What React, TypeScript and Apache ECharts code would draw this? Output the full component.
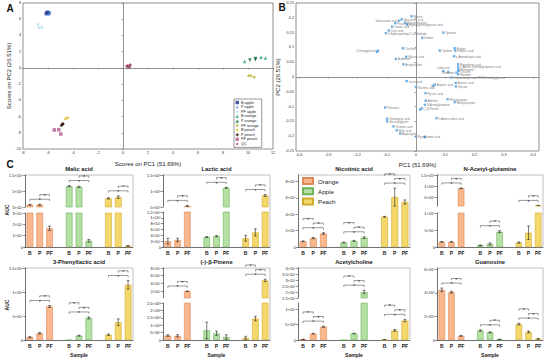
import React, { useEffect, useRef } from 'react';
import * as echarts from 'echarts';

// ---------------- Panel A : PCA scores ----------------
const scoreGroups = ['B apple', 'P apple', 'PF apple', 'B orange', 'P orange', 'PF orange', 'B peach', 'P peach', 'PF peach', 'QC'];
const scoreBApple = [[-6.13, 6.7], [-6.05, 6.85], [-5.95, 6.75]];
const scorePApple = [[-6.0, 6.65], [-5.85, 6.8], [-5.95, 6.6]];
const scorePFApple = [[-6.8, 5.4], [-6.72, 5.0], [-6.5, 5.02]];
const scoreBOrange = [[9.73, 0.8], [11.04, 1.33], [11.4, 1.22]];
const scorePOrange = [[10.15, 0.96], [10.6, 1.16], [10.6, 1.02]];
const scorePFOrange = [[10.05, -0.97], [10.23, -0.97], [10.5, -1.14]];
const scoreBPeach = [[-4.63, -6.3], [-4.5, -6.2], [-4.42, -6.15]];
const scorePPeach = [[-4.93, -7.1], [-4.85, -6.95], [-4.8, -6.9]];
const scorePFPeach = [[-5.5, -7.65], [-5.14, -7.62], [-4.98, -8.15]];
const scoreQC = [[0.3, 0.2], [0.5, 0.35], [0.43, 0.0], [0.6, 0.43], [0.55, 0.15], [0.35, 0.3]];
const scoreColors = ['#1b2f8c', '#3f86d8', '#88d4ea', '#2fa07c', '#0f6634', '#b9b43c', '#e6c443', '#2a0e06', '#b25d8c', '#8c1b40'];
const STAR = 'path://M50,0 L61,35 L98,35 L68,57 L79,91 L50,70 L21,91 L32,57 L2,35 L39,35 Z';
const scoreSymbols = ['rect', STAR, STAR, 'triangle', 'triangle', 'diamond', 'diamond', 'diamond', 'rect', STAR];
const scoreRotate = [0, 0, 0, 0, 180, 0, 0, 0, 0, 0];

// ---------------- Panel B : PCA loadings ----------------
const loadNames = ['Ribose', 'Glucuronic acid', 'Galacturonic acid', 'Gluconolactone', 'Fructose', 'Hydroxyphenylpyruvic acid',
  'Tartaric acid', 'Citric acid', '5-Hydroxymethyl-2-furaldehyde', 'Tyrosine', 'Uridine', 'Citrulline', '2-Deoxyglucose', '',
  'Glyceric acid', 'Arabinose', 'Acetylcholine', 'Cytidine', 'Proline', 'Fumaric acid', 'γ-Aminobutyric acid',
  'Pantothenic acid', '2-Amino-3-phenylpropanoic acid', 'Methionine', 'Leucine', 'Isoleucine', '', 'Threonine', 'Histidine',
  '4-aminobutyric acid N,N-Dimethylglycine', 'Lactic acid', 'Nicotinic acid', 'Aspartic acid', '', 'Aconitic acid', 'Glycine',
  'Pyruvic acid', 'Phenylalanine', 'Methylcysteine', 'Adenine', 'N-Acetylglutamine', 'Theanine', '(-)-β-Pinene', '',
  '5-Amino valeric acid', 'Chlorogenic acid', 'Glucosylglycine', 'Threonic acid', 'Malic acid', 'Asparagine', 'Pyroglutamic acid', ''];
const loadPC1 = [-0.015, -0.049, -0.058, -0.037, -0.071, -0.03, -0.082, -0.093, -0.103, 0.093, 0.021, -0.045, -0.13, -0.133,
  -0.034, -0.069, -0.043, 0.081, 0.132, 0.134, 0.13, 0.144, 0.144, 0.144, 0.146, 0.093, 0.11, 0.138, 0.144,
  0.121, -0.032, 0.0, 0.064, 0.057, 0.136, 0.136, 0.033, 0.108, 0.132, 0.033, 0.03, -0.105, 0.019, 0.014,
  0.07, -0.099, -0.099, -0.077, -0.066, -0.054, 0.0, 0.03];
const loadPC2 = [0.205, 0.195, 0.19, 0.184, 0.182, 0.177, 0.17, 0.157, 0.148, 0.15, 0.132, 0.097, 0.089, 0.085,
  0.068, 0.061, 0.043, 0.089, 0.097, 0.089, 0.07, 0.043, 0.034, 0.025, 0.02, 0.02, 0.017, 0.015, 0.009,
  -0.002, -0.014, -0.034, -0.026, -0.03, -0.02, -0.032, -0.055, -0.075, -0.085, -0.08, -0.094, -0.103, -0.106, -0.11,
  -0.139, -0.141, -0.15, -0.167, -0.18, -0.191, -0.201, -0.202];
const loadLabelLeft = ['2-Deoxyglucose', 'Galacturonic acid', 'Threonine'];
const loadLabelTop = ['Isoleucine'];

// ---------------- Panel C : bar charts ----------------
const samples = ['B', 'P', 'PF'];
const fruits = ['Orange', 'Apple', 'Peach'];
const fruitFill = ['#F8B78C', '#B4E0A4', '#F5D86C'];
const fruitEdge = ['#DE8A56', '#6FB35C', '#D2AB2C'];
const compounds = ['Malic acid', 'Lactic acid', 'Nicotinic acid', 'N-Acetyl-glutamine', '3-Phenyllactic acid', '(-)-β-Pinene', 'Acetylcholine', 'Guanosine'];

const malicMean = [[5.7e7, 5.7e7, 1.65e7], [1.15e8, 1.13e8, 5.5e6], [7.7e7, 8.1e7, 1e6]];
const malicErr = [[1.5e6, 1.5e6, 2e6], [2e6, 2e6, 1.2e6], [2e6, 4e6, 3e5]];
const lacticMean = [[2e7, 2.4e7, 5.3e8], [3.4e7, 3.7e7, 1.1e9], [3e7, 5e7, 8.6e8]];
const lacticErr = [[1e7, 6e6, 2e7], [2e6, 2e6, 1.5e7], [1e7, 1.2e7, 3e7]];
const nicotinicMean = [[7e6, 1.1e7, 1.65e7], [5.5e6, 7.5e6, 1.15e7], [3.7e7, 6.1e7, 5.5e7]];
const nicotinicErr = [[5e5, 8e5, 1e6], [5e5, 6e5, 1e6], [5e5, 1.1e7, 2.5e6]];
const nagMean = [[1.5e7, 1.5e7, 9e8], [5e6, 9e6, 4.5e7], [1.3e7, 4.2e7, 1.2e8]];
const nagErr = [[1e6, 1e6, 1.5e7], [1e6, 3e6, 3e6], [2e6, 2e7, 8e6]];
const plaMean = [[6e6, 1.4e7, 7e7], [0, 9e6, 4.6e7], [1.1e7, 3.7e7, 1.15e8]];
const plaErr = [[1e6, 1.5e6, 2e6], [0, 1e6, 2e6], [1.5e6, 7e6, 9e6]];
const pineneMean = [[3e5, 2.8e5, 2e7], [6.5e5, 4.5e5, 2e5], [1.5e5, 1.45e6, 4.8e7]];
const pineneErr = [[5e4, 8e4, 5e5], [5.5e5, 1.5e5, 1.5e5], [1e5, 1.5e5, 3e6]];
const achMean = [[2e5, 2.05e6, 4.3e6], [0, 2.1e6, 2.0e7], [1e5, 3.1e6, 6.3e6]];
const achErr = [[5e4, 1e5, 2e5], [0, 1e5, 1.5e6], [5e4, 3e5, 4e5]];
const guaMean = [[4.25e8, 4.05e8, 3.5e7], [8e7, 6.5e7, 5e6], [1.35e8, 6.8e7, 1e7]];
const guaErr = [[1.5e7, 8e6, 4e6], [6e6, 4e6, 2e6], [8e6, 8e6, 3e6]];

// significance brackets per fruit: 0 none, 2 = (P–PF, B–PF), 3 = (B–P, P–PF, B–PF)
const malicSig = [2, 2, 2];
const lacticSig = [2, 2, 2];
const nicotinicSig = [3, 3, 3];
const nagSig = [2, 2, 2];
const plaSig = [2, 3, 2];
const pineneSig = [2, 0, 3];
const achSig = [3, 3, 3];
const guaSig = [2, 2, 3];

// y axis ranges [min, max, tick step]; upper segment for broken axes
const malicLow = [0, 3e7, 1e7], malicUp = [5e7, 1.5e8, 5e7];
const lacticLow = [0, 1.2e8, 2e7], lacticUp = [5e8, 1.5e9, 5e8];
const nicotinicLow = [0, 8.8e7, 2e7];
const nagLow = [0, 1e8, 5e7], nagUp = [1e8, 1.5e9, 5e8];
const plaLow = [0, 1.5e8, 5e7];
const pineneLow = [0, 2.5e6, 5e5], pineneUp = [2.5e6, 8e7, 2e7];
const achLow = [0, 1.2e7, 5e6], achUp = [1.5e7, 4e7, 5e6];
const guaLow = [0, 6.1e8, 2e8];

const means = [malicMean, lacticMean, nicotinicMean, nagMean, plaMean, pineneMean, achMean, guaMean];
const errs = [malicErr, lacticErr, nicotinicErr, nagErr, plaErr, pineneErr, achErr, guaErr];
const sigs = [malicSig, lacticSig, nicotinicSig, nagSig, plaSig, pineneSig, achSig, guaSig];
const lows = [malicLow, lacticLow, nicotinicLow, nagLow, plaLow, pineneLow, achLow, guaLow];
const ups: (number[] | null)[] = [malicUp, lacticUp, null, nagUp, null, pineneUp, achUp, null];

// layout (pixels)
const cols = [[25, 133], [163, 270], [298, 410], [437, 543]];
const rows = [[175, 247], [268, 340]];
const breakPx: (number[] | null)[] = [[213, 207], [212, 207], null, [213, 206], null, [303, 298], [303, 298], null];
const FONT = 'Liberation Sans, Arial, sans-serif';

const SUP: Record<string, string> = { '0': '⁰', '1': '¹', '2': '²', '3': '³', '4': '⁴', '5': '⁵', '6': '⁶', '7': '⁷', '8': '⁸', '9': '⁹', '-': '⁻' };
function sci(v: number): string {
  if (Math.abs(v) < 1e-6) return '0';
  let e = Math.floor(Math.log10(v) + 1e-9);
  let m = Math.round((v / Math.pow(10, e)) * 10) / 10;
  if (m >= 10) { m = m / 10; e += 1; }
  return `${m}×10${String(e).split('').map((c) => SUP[c]).join('')}`;
}
function ticksOf(a: number[]): number[] {
  const out: number[] = [];
  const n0 = Math.ceil(a[0] / a[2] - 1e-9);
  const n1 = Math.floor(a[1] / a[2] + 1e-9);
  for (let n = n0; n <= n1; n++) out.push(n * a[2]);
  return out;
}

const cats = ['B', 'P', 'PF', '', 'B', 'P', 'PF', '', 'B', 'P', 'PF'];

function buildOption() {
  const grids: any[] = [];
  const xAxes: any[] = [];
  const yAxes: any[] = [];
  const series: any[] = [];
  const graphics: any[] = [];
  const axisCol = '#333';

  // ---------- A ----------
  grids.push({ left: 23, top: 3, width: 250, height: 146, show: true, borderColor: '#444', borderWidth: 0.6 });
  xAxes.push({
    gridIndex: 0, type: 'value', min: -8, max: 12, interval: 2,
    axisLine: { lineStyle: { color: '#444', width: 0.6 } }, axisTick: { length: 1.5, lineStyle: { width: 0.5 } },
    axisLabel: { fontSize: 3.8, margin: 2, color: '#333' }, splitLine: { show: false },
    name: 'Scores on PC1 (51.69%)', nameLocation: 'middle', nameGap: 12, nameTextStyle: { fontSize: 6, color: '#222' },
  });
  yAxes.push({
    gridIndex: 0, type: 'value', min: -10, max: 8, interval: 2,
    axisLine: { lineStyle: { color: '#444', width: 0.6 } }, axisTick: { length: 1.5, lineStyle: { width: 0.5 } },
    axisLabel: { fontSize: 3.8, margin: 2, color: '#333' }, splitLine: { show: false },
    name: 'Scores on PC2 (26.51%)', nameLocation: 'middle', nameGap: 8, nameTextStyle: { fontSize: 6, color: '#222' },
  });
  const scoreData = [scoreBApple, scorePApple, scorePFApple, scoreBOrange, scorePOrange, scorePFOrange, scoreBPeach, scorePPeach, scorePFPeach, scoreQC];
  scoreGroups.forEach((g, i) => {
    series.push({
      type: 'scatter', name: g, xAxisIndex: 0, yAxisIndex: 0, data: scoreData[i],
      symbol: scoreSymbols[i], symbolRotate: scoreRotate[i], symbolSize: 3.6,
      itemStyle: { color: scoreColors[i] },
      markLine: i === 9 ? {
        silent: true, symbol: 'none', label: { show: false },
        lineStyle: { type: 'dashed', color: '#999', width: 0.6 },
        data: [{ xAxis: 0 }, { yAxis: 0 }],
      } : undefined,
    });
  });

  // ---------- B ----------
  grids.push({ left: 296, top: 3, width: 243, height: 148, show: true, borderColor: '#444', borderWidth: 0.6 });
  const bTicks = [-0.4, -0.3, -0.2, -0.1, 0, 0.1, 0.2, 0.3, 0.4];
  xAxes.push({
    gridIndex: 1, type: 'value', min: -0.41, max: 0.42,
    axisLine: { lineStyle: { color: '#444', width: 0.6 } },
    axisTick: { length: 1.5, lineStyle: { width: 0.5 }, customValues: bTicks },
    axisLabel: { fontSize: 3.8, margin: 2, color: '#333', customValues: bTicks, formatter: (v: number) => String(Math.round(v * 100) / 100) },
    splitLine: { show: false },
    name: 'PC1 (51.69%)', nameLocation: 'middle', nameGap: 11, nameTextStyle: { fontSize: 6, color: '#222' },
  });
  yAxes.push({
    gridIndex: 1, type: 'value', min: -0.25, max: 0.25, interval: 0.05,
    axisLine: { lineStyle: { color: '#444', width: 0.6 } }, axisTick: { length: 1.5, lineStyle: { width: 0.5 } },
    axisLabel: { fontSize: 3.8, margin: 2, color: '#333', formatter: (v: number) => String(Math.round(v * 100) / 100) },
    splitLine: { show: false },
    name: 'PC2 (26.51%)', nameLocation: 'middle', nameGap: 12, nameTextStyle: { fontSize: 6, color: '#222' },
  });
  series.push({
    type: 'scatter', name: 'loadings', xAxisIndex: 1, yAxisIndex: 1, symbol: 'rect', symbolSize: 2.4,
    itemStyle: { color: '#4a9be0' },
    data: loadNames.map((n, i) => ({
      name: n, value: [loadPC1[i], loadPC2[i]],
      label: loadLabelLeft.indexOf(n) >= 0 ? { position: 'left' } : loadLabelTop.indexOf(n) >= 0 ? { position: 'top' } : undefined,
    })),
    label: { show: true, position: 'right', distance: 0.8, formatter: '{b}', fontSize: 2.8, lineHeight: 2.9, color: '#444' },
    labelLayout: { moveOverlap: 'shiftY' },
    markLine: {
      silent: true, symbol: 'none', label: { show: false },
      lineStyle: { type: 'dashed', color: '#999', width: 0.6 },
      data: [{ xAxis: 0 }, { yAxis: 0 }],
    },
  });

  // ---------- C ----------
  const yAx = (a: number[], gi: number) => {
    const t = ticksOf(a);
    return {
      gridIndex: gi, type: 'value', min: a[0], max: a[1],
      axisLine: { show: true, lineStyle: { color: axisCol, width: 0.7 } },
      axisTick: { show: true, length: 1.8, lineStyle: { color: axisCol, width: 0.6 }, customValues: t },
      axisLabel: { fontSize: 4, margin: 2, color: '#222', formatter: sci, customValues: t },
      splitLine: { show: false },
    };
  };
  const addBars = (gi: number, k: number) => {
    fruits.forEach((f, fi) => {
      series.push({
        type: 'bar', name: f, xAxisIndex: gi, yAxisIndex: gi, barGap: '-100%', barWidth: '68%',
        itemStyle: { color: fruitFill[fi], borderColor: fruitEdge[fi], borderWidth: 0.6 },
        data: cats.map((_, i) => ((i >> 2) === fi && (i & 3) < 3 ? means[k][fi][i & 3] : '-')),
        silent: true,
      });
    });
    const eb: number[][] = [];
    fruits.forEach((_, fi) => samples.forEach((_, si) => {
      if (errs[k][fi][si] > 0) eb.push([fi * 4 + si, means[k][fi][si], errs[k][fi][si]]);
    }));
    series.push({
      type: 'custom', xAxisIndex: gi, yAxisIndex: gi, clip: true, silent: true, z: 3,
      encode: { x: 0, y: 1 }, data: eb,
      renderItem: (p: any, api: any) => {
        const x = api.value(0), m = api.value(1), e = api.value(2);
        const t = api.coord([x, m + e]);
        const b = api.coord([x, Math.max(m - e, 0)]);
        const st = { stroke: '#222', lineWidth: 0.6 };
        return {
          type: 'group', children: [
            { type: 'line', shape: { x1: t[0], y1: t[1], x2: t[0], y2: b[1] }, style: st },
            { type: 'line', shape: { x1: t[0] - 1.4, y1: t[1], x2: t[0] + 1.4, y2: t[1] }, style: st },
            { type: 'line', shape: { x1: t[0] - 1.4, y1: b[1], x2: t[0] + 1.4, y2: b[1] }, style: st },
          ],
        };
      },
    });
  };

  compounds.forEach((name, k) => {
    const col = cols[k % 4];
    const row = rows[Math.floor(k / 4)];
    const bp = breakPx[k];
    const up = ups[k];
    const low = lows[k];
    const lowerTop = bp ? bp[0] : row[0];
    const w = col[1] - col[0];
    const gi = grids.length;
    grids.push({ left: col[0], top: lowerTop, width: w, height: row[1] - lowerTop });
    xAxes.push({
      gridIndex: gi, type: 'category', data: cats,
      axisLine: { show: true, lineStyle: { color: axisCol, width: 0.7 } }, axisTick: { show: false },
      axisLabel: { interval: 0, fontSize: 5, fontWeight: 'bold', color: '#222', margin: 3 },
      name: k >= 4 ? 'Sample' : '', nameLocation: 'middle', nameGap: 12,
      nameTextStyle: { fontSize: 5, fontWeight: 'bold', color: '#222' },
    });
    yAxes.push(yAx(low, gi));
    addBars(gi, k);
    let ui = -1;
    if (bp && up) {
      ui = grids.length;
      grids.push({ left: col[0], top: row[0], width: w, height: bp[1] - row[0] });
      xAxes.push({ gridIndex: ui, type: 'category', data: cats, show: false });
      yAxes.push(yAx(up, ui));
      addBars(ui, k);
    }
    // brackets
    const brLow: number[][] = [];
    const brUp: number[][] = [];
    sigs[k].forEach((s, fi) => {
      if (!s) return;
      const top = Math.max(...samples.map((_, si) => means[k][fi][si] + errs[k][fi][si]));
      const pairs = s === 3 ? [[0, 2, 0], [1, 2, 1], [0, 1, 2]] : [[0, 2, 0], [1, 2, 1]];
      const target = ui >= 0 && top > low[1] ? brUp : brLow;
      pairs.forEach((pr) => target.push([fi * 4 + pr[0], fi * 4 + pr[1], top, pr[2]]));
    });
    const bracketSeries = (gIdx: number, data: number[][]) => ({
      type: 'custom', xAxisIndex: gIdx, yAxisIndex: gIdx, silent: true, z: 4,
      encode: { x: [0, 1], y: 2 }, data,
      renderItem: (p: any, api: any) => {
        const a = api.coord([api.value(0), api.value(2)]);
        const b = api.coord([api.value(1), api.value(2)]);
        const y = a[1] - 5 - api.value(3) * 4.6;
        const st = { stroke: '#333', lineWidth: 0.5, fill: 'none' };
        return {
          type: 'group', children: [
            { type: 'polyline', shape: { points: [[a[0], y + 1.8], [a[0], y], [b[0], y], [b[0], y + 1.8]] }, style: st },
            { type: 'text', style: { text: '*', x: (a[0] + b[0]) / 2, y: y + 1.2, textAlign: 'center', textVerticalAlign: 'middle', fontSize: 5, fill: '#222', fontFamily: FONT } },
          ],
        };
      },
    });
    if (brLow.length) series.push(bracketSeries(gi, brLow));
    if (brUp.length) series.push(bracketSeries(ui, brUp));

    // frame (top + right) and title
    graphics.push({
      type: 'polyline', silent: true,
      shape: { points: [[col[0], row[0]], [col[1], row[0]], [col[1], row[1]]] },
      style: { stroke: '#999', lineWidth: 0.6, fill: 'none' },
    });
    graphics.push({
      type: 'text', silent: true, x: (col[0] + col[1]) / 2, y: row[0] - 6,
      style: { text: name, fontSize: 5.8, fontWeight: 'bold', fill: '#222', textAlign: 'center', textVerticalAlign: 'middle', fontFamily: FONT },
    });
  });

  // panel letters and AUC labels
  [['A', 10, 8], ['B', 282, 7], ['C', 10, 164]].forEach((t: any) => {
    graphics.push({ type: 'text', silent: true, x: t[1], y: t[2], style: { text: t[0], fontSize: 10, fontWeight: 'bold', fill: '#111', textAlign: 'center', textVerticalAlign: 'middle', fontFamily: FONT } });
  });
  [210, 305].forEach((y) => {
    graphics.push({ type: 'text', silent: true, x: 7, y, rotation: Math.PI / 2, style: { text: 'AUC', fontSize: 5, fontWeight: 'bold', fill: '#222', textAlign: 'center', textVerticalAlign: 'middle', fontFamily: FONT } });
  });

  return {
    animation: false,
    backgroundColor: '#fff',
    textStyle: { fontFamily: FONT },
    grid: grids,
    xAxis: xAxes,
    yAxis: yAxes,
    series,
    legend: [
      {
        data: scoreGroups, left: 234, top: 99, orient: 'vertical', itemWidth: 3.5, itemHeight: 3.5, itemGap: 0.6,
        padding: [1.5, 3, 1.5, 1.5], backgroundColor: '#fff', borderColor: '#333', borderWidth: 0.5,
        textStyle: { fontSize: 3.8, color: '#222', padding: [0, 0, 0, -3] },
      },
      {
        data: fruits, left: 302, top: 177, padding: 0, orient: 'vertical', itemWidth: 10, itemHeight: 6, itemGap: 2.2, icon: 'rect',
        textStyle: { fontSize: 6.2, color: '#222' },
      },
    ],
    graphic: graphics,
  };
}

export default function App() {
  const ref = useRef<HTMLDivElement>(null);
  useEffect(() => {
    if (!ref.current) return;
    const chart = echarts.init(ref.current, undefined, { renderer: 'svg', width: 550, height: 363 });
    chart.setOption(buildOption() as any);
    return () => chart.dispose();
  }, []);
  return <div ref={ref} style={{ position: 'fixed', left: 0, top: 0, width: 550, height: 363, background: '#fff' }} />;
}
